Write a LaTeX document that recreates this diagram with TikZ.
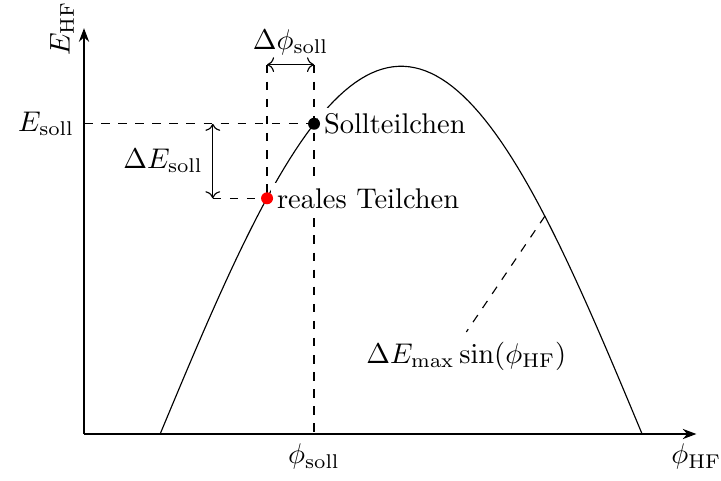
\documentclass[tikz,border=0pt]{standalone}
\usetikzlibrary{arrows.meta,positioning}

\begin{document}
\begin{tikzpicture}[>=Stealth,every node/.style={font=\normalsize}]
\useasboundingbox (-1.037,-0.568) rectangle (7.864,5.358);
\coordinate (o) at (0,0);
\coordinate (xend) at (7.56,0);
\coordinate (yend) at (0,5.01);
\coordinate (soll) at (2.84,3.83);
\coordinate (real) at (2.26,2.91);
\coordinate (sollx) at (2.84,0);
\coordinate (solly) at (0,3.83);
\coordinate (topa) at (2.26,4.56);
\coordinate (topb) at (2.84,4.56);
\coordinate (dEt) at (1.59,3.83);
\coordinate (dEb) at (1.59,2.91);
\coordinate (curvept) at (5.69,2.69);
% axes
\draw[->] (o) -- (xend);
\draw[->] (o) -- (yend);
\node[below] (xlab) at (xend) {$\phi_\mathrm{HF}$};
\node[rotate=90,anchor=south] (ylab) at (yend) {$E_\mathrm{HF}$};
% curve
\draw plot[domain=0:180,samples=90] ({0.94+\x/180*5.95},{4.54*sin(\x)});
% helper lines
\draw[dashed] (solly) -- (soll);
\draw[dashed] (topb) -- (sollx);
\draw[dashed] (topa) -- (real);
\draw[dashed] (dEb) -- (real);
\node[left] (Esoll) at (solly) {$E_\mathrm{soll}$};
\node[below] (phisoll) at (sollx) {$\phi_\mathrm{soll}$};
\draw[{To}-{To}] (topa) -- (topb) node[midway,above] (dphi) {$\Delta\phi_\mathrm{soll}$};
\draw[{To}-{To}] (dEt) -- (dEb) node[midway,left] (dE) {$\Delta E_\mathrm{soll}$};
% particles
\node[right,fill=white,inner sep=2pt,xshift=1.3pt] (solltxt) at (soll) {Sollteilchen};
\node[right,fill=white,inner sep=2pt,xshift=1.3pt] (realtxt) at (real) {reales Teilchen};
\fill (soll) circle (2.1pt);
\fill[red] (real) circle (2.1pt);
% amplitude label
\node (amp) at (4.72,0.96) {$\Delta E_\mathrm{max}\sin(\phi_\mathrm{HF})$};
\draw[dashed] (curvept) -- (amp.north);
\end{tikzpicture}
\end{document}
